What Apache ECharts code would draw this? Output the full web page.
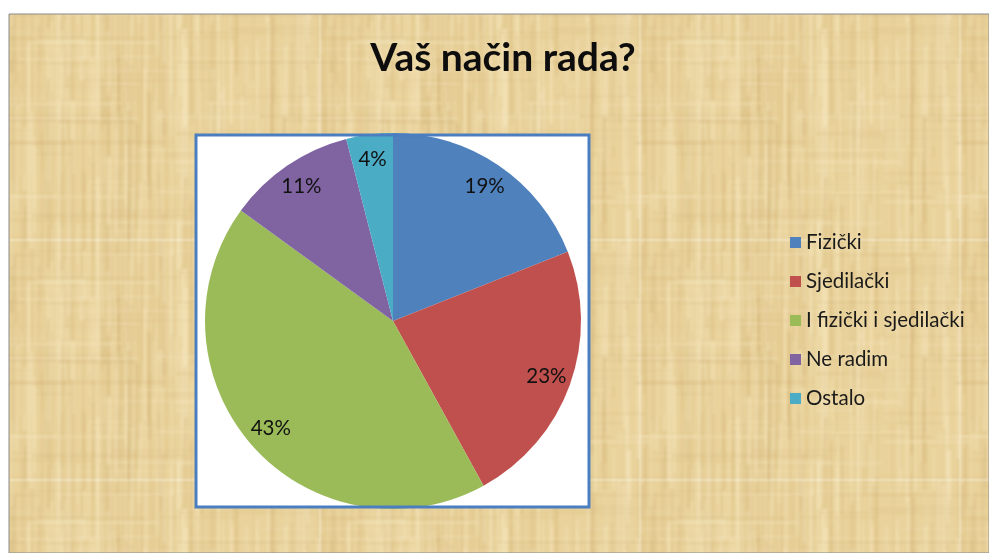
<!DOCTYPE html>
<html>
<head>
<meta charset="utf-8">
<style>
  html, body { margin: 0; padding: 0; background: #ffffff; }
  #chart { width: 989px; height: 553px; }
</style>
<script src="https://cdn.jsdelivr.net/npm/echarts@6/dist/echarts.min.js"></script>
</head>
<body>
<div id="chart"></div>
<script>
// Survey: "Vaš način rada?" (your type of work)
const categories = ['Fizički', 'Sjedilački', 'I fizički i sjedilački', 'Ne radim', 'Ostalo'];
const shares = [19, 23, 43, 11, 4];
const sliceColors = ['#4F81BD', '#C0504D', '#9BBB59', '#8064A2', '#4BACC6'];
const titleText = 'Vaš način rada?';

// Soft papyrus-like fibre texture for the slide background
function papyrusTexture() {
  const w = 320, h = 240;
  const raw = document.createElement('canvas');
  raw.width = w; raw.height = h;
  const g = raw.getContext('2d');
  g.fillStyle = '#e9d29b';
  g.fillRect(0, 0, w, h);
  let seed = 11;
  const rnd = () => { seed = (seed * 16807) % 2147483647; return seed / 2147483647; };
  // vertical fibres
  for (let i = 0; i < 240; i++) {
    const x = rnd() * w, y = rnd() * h, len = 30 + rnd() * 170, wd = 1 + rnd() * 4;
    const light = rnd() > 0.45;
    g.fillStyle = light ? 'rgba(247,232,192,' + (0.15 + rnd() * 0.28) + ')'
                        : 'rgba(200,165,100,' + (0.07 + rnd() * 0.13) + ')';
    g.fillRect(x, y, wd, len);
    if (y + len > h) g.fillRect(x, y - h, wd, len);
    if (x + wd > w) g.fillRect(x - w, y, wd, len);
  }
  // horizontal fibres
  for (let i = 0; i < 80; i++) {
    const x = rnd() * w, y = rnd() * h, len = 30 + rnd() * 140, ht = 1 + rnd() * 3;
    const light = rnd() > 0.5;
    g.fillStyle = light ? 'rgba(247,232,192,' + (0.12 + rnd() * 0.2) + ')'
                        : 'rgba(200,165,100,' + (0.06 + rnd() * 0.1) + ')';
    g.fillRect(x, y, len, ht);
    if (x + len > w) g.fillRect(x - w, y, len, ht);
  }
  // soften the fibres, tiling the source 3x3 so edges blur seamlessly
  const out = document.createElement('canvas');
  out.width = w; out.height = h;
  const o = out.getContext('2d');
  o.filter = 'blur(1.1px)';
  for (let dx = -1; dx <= 1; dx++) {
    for (let dy = -1; dy <= 1; dy++) o.drawImage(raw, dx * w, dy * h);
  }
  return out;
}

const pieData = categories.map((name, i) => ({ name, value: shares[i], itemStyle: { color: sliceColors[i] } }));

const chart = echarts.init(document.getElementById('chart'), null, { renderer: 'canvas' });
const tex = papyrusTexture();

chart.setOption({
  animation: false,
  backgroundColor: '#ffffff',
  title: {
    text: titleText,
    left: 498,
    textAlign: 'center',
    top: 34,
    textStyle: { fontFamily: 'Lato', fontWeight: 'bold', fontSize: 39, color: '#0d0d0d' }
  },
  legend: {
    orient: 'vertical',
    left: 790,
    top: 232,
    padding: 0,
    icon: 'rect',
    itemWidth: 11,
    itemHeight: 11,
    itemGap: 18,
    data: categories,
    textStyle: { fontFamily: 'Lato', fontSize: 20.5, color: '#1a1a1a', lineHeight: 21 }
  },
  graphic: [
    {
      type: 'rect', z: -10, silent: true,
      shape: { x: 9, y: 14, width: 980, height: 539 },
      style: { fill: { image: tex, repeat: 'repeat' }, stroke: '#8a8a8a', lineWidth: 1 }
    },
    {
      type: 'rect', z: -5, silent: true,
      shape: { x: 196, y: 135, width: 393, height: 372 },
      style: { fill: '#ffffff' }
    },
    {
      type: 'rect', z: 100, silent: true,
      shape: { x: 196, y: 135, width: 393, height: 372 },
      style: { fill: null, stroke: '#4A7EC0', lineWidth: 3 }
    }
  ],
  series: [
    {
      type: 'pie',
      center: [393, 321],
      radius: [0, 188],
      startAngle: 90,
      clockwise: true,
      silent: true,
      label: { show: false },
      labelLine: { show: false },
      data: pieData
    },
    {
      // percentage labels placed in the outer part of each slice
      type: 'pie',
      center: [393, 321],
      radius: [132, 188],
      startAngle: 90,
      clockwise: true,
      silent: true,
      itemStyle: { color: 'rgba(0,0,0,0)' },
      label: {
        show: true,
        position: 'inside',
        formatter: p => p.value + '%',
        fontFamily: 'Lato',
        fontSize: 20.5,
        color: '#111111'
      },
      labelLine: { show: false },
      data: categories.map((name, i) => ({ name, value: shares[i] }))
    }
  ]
});
</script>
</body>
</html>
